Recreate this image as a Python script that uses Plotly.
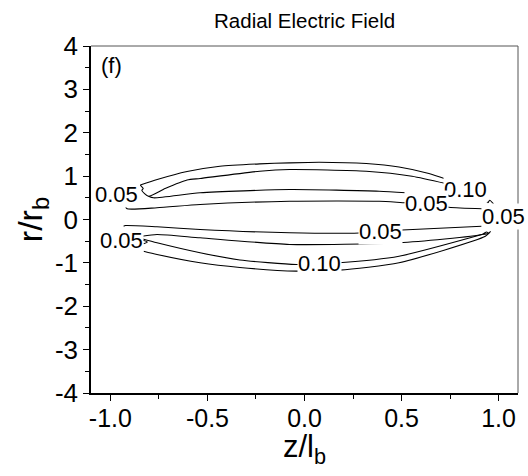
import plotly.graph_objects as go

# ---- contour lines (z/l_b, r/r_b) ----
upper_outer_z = [-0.846, -0.831, -0.838, -0.804, -0.718, -0.605, -0.538, -0.231, -0.077, 0.318, 0.554, 0.728]
upper_outer_r = [0.795, 0.714, 0.668, 0.537, 0.714, 0.910, 0.945, 1.113, 1.152, 1.113, 0.998, 0.829]

upper_top_z = [-0.846, -0.759, -0.605, -0.436, -0.231, -0.077, 0.077, 0.318, 0.487, 0.641, 0.728]
upper_top_r = [0.795, 0.922, 1.106, 1.228, 1.283, 1.306, 1.320, 1.290, 1.210, 1.060, 0.933]

upper_inner_z = [-0.804, -0.778, -0.538, -0.077, 0.385, 0.523]
upper_inner_r = [0.537, 0.500, 0.615, 0.691, 0.652, 0.615]

upper_axis_z = [-0.923, -0.914, -0.760, -0.538, -0.077, 0.385, 0.523, 0.626, 0.744, 0.914]
upper_axis_r = [0.306, 0.247, 0.270, 0.346, 0.422, 0.422, 0.385, 0.369, 0.283, 0.247]

upper_tail_z = [0.914, 0.932, 0.945, 0.954, 0.974]
upper_tail_r = [0.422, 0.445, 0.385, 0.445, 0.362]

lower_axis_z = [-0.932, -0.923, -0.760, -0.538, -0.077, 0.282, 0.390, 0.503, 0.913]
lower_axis_r = [-0.154, -0.138, -0.168, -0.230, -0.306, -0.311, -0.276, -0.242, -0.154]

lower_inner_z = [-0.837, -0.760, -0.538, -0.077, 0.487, 0.914, 0.938, 0.950, 0.914]
lower_inner_r = [-0.385, -0.346, -0.422, -0.576, -0.537, -0.346, -0.288, -0.320, -0.346]

lower_mid_z = [-0.837, -0.760, -0.538, -0.333, -0.043, 0.179, 0.487, 0.914]
lower_mid_r = [-0.445, -0.537, -0.767, -0.933, -1.037, -0.998, -0.846, -0.346]

lower_outer_z = [-0.829, -0.760, -0.538, -0.333, -0.043, 0.179, 0.487, 0.932, 0.959]
lower_outer_r = [-0.730, -0.806, -0.998, -1.106, -1.191, -1.168, -0.998, -0.385, -0.276]

lower_notch_z = [-0.838, -0.810, -0.829]
lower_notch_r = [-0.468, -0.521, -0.560]

# contour labels
label_text = ["0.05", "0.10", "0.05", "0.05", "0.05", "0.05", "0.10"]
label_z = [-0.969, 0.831, 0.626, 1.026, 0.390, -0.944, 0.077]
label_r = [0.576, 0.691, 0.369, 0.069, -0.276, -0.484, -1.014]

x_ticks = [-1.0, -0.5, 0.0, 0.5, 1.0]
y_ticks = [-4, -3, -2, -1, 0, 1, 2, 3, 4]

FONT = "Liberation Sans, Arial, sans-serif"

fig = go.Figure()
curves = [
    (upper_outer_z, upper_outer_r), (upper_top_z, upper_top_r),
    (upper_inner_z, upper_inner_r), (upper_axis_z, upper_axis_r),
    (upper_tail_z, upper_tail_r), (lower_axis_z, lower_axis_r),
    (lower_inner_z, lower_inner_r), (lower_mid_z, lower_mid_r),
    (lower_outer_z, lower_outer_r), (lower_notch_z, lower_notch_r),
]
for zz, rr in curves:
    fig.add_trace(go.Scatter(x=zz, y=rr, mode="lines",
                             line=dict(color="black", width=1.1, shape="spline", smoothing=0.6),
                             showlegend=False, hoverinfo="skip"))

for t, zx, ry in zip(label_text, label_z, label_r):
    fig.add_annotation(x=zx, y=ry, text=t, showarrow=False, xref="x", yref="y",
                       font=dict(family=FONT, size=22, color="black"),
                       bgcolor="white", borderpad=0)

fig.add_annotation(x=-1.06, y=3.55, text="(f)", showarrow=False, xanchor="left",
                   font=dict(family=FONT, size=22, color="black"))

# x-axis title placed as text just below the tick labels
fig.add_annotation(x=0.5, y=-0.162, xref="paper", yref="paper", text="z/l<sub>b</sub>",
                   showarrow=False, xanchor="center", yanchor="middle",
                   font=dict(family=FONT, size=31, color="black"))

fig.add_shape(type="line", xref="paper", yref="paper", x0=0, x1=1, y0=1, y1=1,
              line=dict(color="#555555", width=1))
fig.add_shape(type="line", xref="paper", yref="paper", x0=1, x1=1, y0=0, y1=1,
              line=dict(color="#555555", width=1))

fig.update_layout(
    width=528, height=476,
    margin=dict(l=91, r=10, t=46, b=83),
    paper_bgcolor="white", plot_bgcolor="white",
    font=dict(family=FONT, color="black"),
    title=dict(text="Radial Electric Field", x=0.577, xanchor="center",
               y=0.957, yanchor="middle", font=dict(size=20.5)),
    xaxis=dict(range=[-1.1, 1.1], tickvals=x_ticks, ticktext=[f"{v:.1f}" for v in x_ticks],
               showgrid=False, zeroline=False, showline=True, linecolor="black", linewidth=1.5,
               ticks="outside", ticklen=6, tickwidth=1.2, tickcolor="black",
               minor=dict(ticks="outside", dtick=0.25, tick0=0, ticklen=4, tickcolor="black", tickwidth=1),
               tickfont=dict(size=25), ticklabelstandoff=-4),
    yaxis=dict(range=[-4, 4], tickvals=y_ticks, ticktext=[str(v) for v in y_ticks],
               showgrid=False, zeroline=False, showline=True, linecolor="black", linewidth=1.5,
               ticks="outside", ticklen=6, tickwidth=1.2, tickcolor="black",
               minor=dict(ticks="outside", dtick=0.5, tick0=0, ticklen=4, tickcolor="black", tickwidth=1),
               tickfont=dict(size=26),
               title=dict(text="r/r<sub>b</sub>", font=dict(size=34), standoff=2)),
)

fig.write_html("out.html")
